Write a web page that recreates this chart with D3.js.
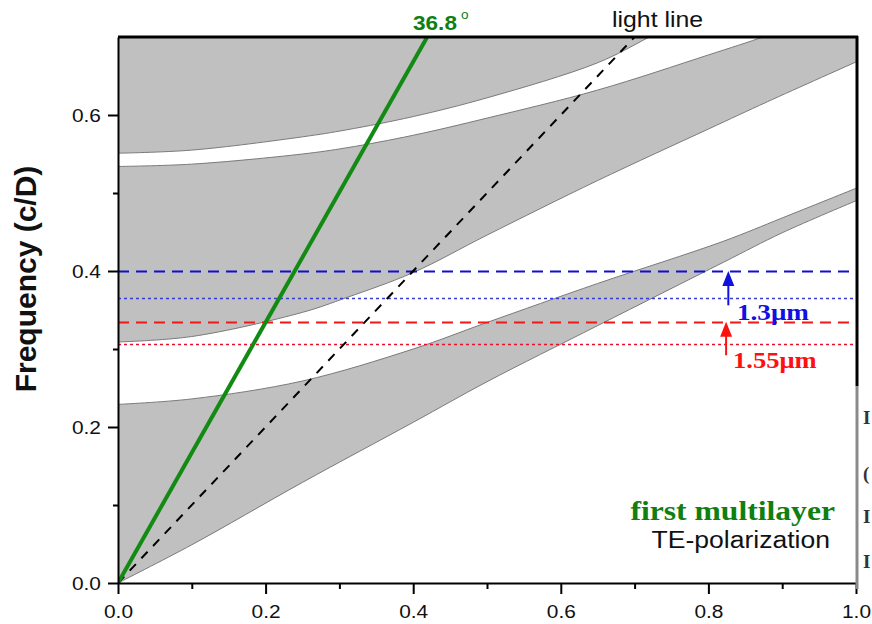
<!DOCTYPE html>
<html>
<head>
  <meta charset="UTF-8">
  <style>
    body { margin: 0; padding: 0; background: #fff; }
    svg { display: block; }
    .sans { font-family: "Liberation Sans", Arial, sans-serif; }
    .serif { font-family: "Liberation Serif", "Times New Roman", serif; font-weight: bold; }
  </style>
</head>
<body>
  <svg></svg>
  <script src="https://d3js.org/d3.v7.min.js"></script>
  <script>
    const width = 872, height = 624;

    // band edges (wave vector -> frequency)
    const band1V  = [0, 0.1, 0.25, 0.4, 0.5, 0.65, 0.82, 0.9, 1.0];
    const band1Lo = [0, 0.049, 0.129, 0.206, 0.258, 0.33, 0.411, 0.449, 0.49];
    const band1Hi = [0.229, 0.236, 0.259, 0.30, 0.334, 0.384, 0.438, 0.468, 0.506];

    const band2V  = [0, 0.1, 0.25, 0.31, 0.4, 0.5, 0.65, 0.8, 0.88, 1.0];
    const band2Lo = [0.309, 0.316, 0.347, 0.366, 0.398, 0.446, 0.516, 0.582, 0.617, 0.668];
    const band2Hi = [0.534, 0.537, 0.55, 0.558, 0.574, 0.596, 0.632, 0.677, 0.702, 0.745];

    const band3V  = [0, 0.1, 0.25, 0.31, 0.4, 0.5, 0.65, 0.72, 0.8, 1.0];
    const band3Lo = [0.551, 0.555, 0.572, 0.581, 0.598, 0.622, 0.667, 0.70, 0.74, 0.84];

    const lightLine = [[0, 0], [0.7, 0.7]];
    const angleLine = [[0, 0], [0.419, 0.7]];

    // wavelength guides: 1.3um (dashed / dotted), 1.55um (dashed / dotted)
    const blueLevels = [0.4, 0.365];
    const redLevels = [0.335, 0.307];
    const arrowK = [0.827, 0.824];
    const arrowFrom = [0.356, 0.292];

    const xTicks = [0, 0.2, 0.4, 0.6, 0.8, 1.0];
    const xMinor = [0.1, 0.3, 0.5, 0.7, 0.9];
    const yTicks = [0, 0.2, 0.4, 0.6];
    const yMinor = [0.1, 0.3, 0.5];

    const sx = 1.13; // the source picture is stretched sideways a bit

    const svg = d3.select("svg").attr("width", width).attr("height", height);

    const x = d3.scaleLinear().domain([0, 1]).range([118, 856]);
    const y = d3.scaleLinear().domain([0, 0.7]).range([583, 37]);

    svg.append("clipPath").attr("id", "plot")
      .append("rect")
      .attr("x", x(0)).attr("y", y(0.7))
      .attr("width", x(1) - x(0)).attr("height", y(0) - y(0.7));

    const plot = svg.append("g").attr("clip-path", "url(#plot)");

    const zip = (v, f) => v.map((d, i) => [d, f[i]]);

    const area = d3.area()
      .x(d => x(d[0])).y0(d => y(d[1])).y1(d => y(d[2]))
      .curve(d3.curveCatmullRom.alpha(0.5));
    const edge = d3.line()
      .x(d => x(d[0])).y(d => y(d[1]))
      .curve(d3.curveCatmullRom.alpha(0.5));

    const bands = [
      band1V.map((v, i) => [v, band1Lo[i], band1Hi[i]]),
      band2V.map((v, i) => [v, band2Lo[i], band2Hi[i]]),
      band3V.map((v, i) => [v, band3Lo[i], 0.8])
    ];

    plot.selectAll("path.band")
      .data(bands)
      .enter().append("path")
      .attr("class", "band")
      .attr("d", area)
      .attr("fill", "#c0c0c0");

    const edges = [
      zip(band1V, band1Lo), zip(band1V, band1Hi),
      zip(band2V, band2Lo), zip(band2V, band2Hi),
      zip(band3V, band3Lo)
    ];
    plot.selectAll("path.edge")
      .data(edges)
      .enter().append("path")
      .attr("class", "edge")
      .attr("d", edge)
      .attr("fill", "none")
      .attr("stroke", "#7a7a7a")
      .attr("stroke-width", 1);

    // horizontal guides
    const guides = [
      { f: blueLevels[0], c: "#1010c8", w: 2, dash: "11,7" },
      { f: blueLevels[1], c: "#3a3ad8", w: 1.3, dash: "3,3" },
      { f: redLevels[0], c: "#f01818", w: 2, dash: "11,7" },
      { f: redLevels[1], c: "#e8102a", w: 1.3, dash: "3,3" }
    ];
    plot.selectAll("line.guide")
      .data(guides)
      .enter().append("line")
      .attr("class", "guide")
      .attr("x1", x(0)).attr("x2", x(1))
      .attr("y1", d => Math.round(y(d.f)) + 0.5).attr("y2", d => Math.round(y(d.f)) + 0.5)
      .attr("stroke", d => d.c)
      .attr("stroke-width", d => d.w)
      .attr("stroke-dasharray", d => d.dash);

    plot.append("path")
      .attr("d", edge(lightLine))
      .attr("stroke", "#000").attr("stroke-width", 2)
      .attr("stroke-dasharray", "9,8")
      .attr("fill", "none");

    plot.append("path")
      .attr("d", edge(angleLine))
      .attr("stroke", "#138a13").attr("stroke-width", 4)
      .attr("fill", "none");

    // axes
    const fmt = d3.format(".1f");
    const xAxis = svg.append("g").attr("transform", `translate(0,${y(0)})`)
      .call(d3.axisBottom(x).tickValues(xTicks).tickSize(11).tickSizeOuter(0).tickFormat(fmt));
    svg.append("g").attr("transform", `translate(0,${y(0)})`)
      .call(d3.axisBottom(x).tickValues(xMinor).tickSize(6).tickFormat(""))
      .select(".domain").remove();
    const yAxis = svg.append("g").attr("transform", `translate(${x(0)},0)`)
      .call(d3.axisLeft(y).tickValues(yTicks).tickSize(10).tickSizeOuter(0).tickFormat(fmt));
    svg.append("g").attr("transform", `translate(${x(0)},0)`)
      .call(d3.axisLeft(y).tickValues(yMinor).tickSize(5).tickFormat(""))
      .select(".domain").remove();

    svg.selectAll(".domain, .tick line").attr("stroke", "#000").attr("stroke-width", 2);
    xAxis.selectAll("text")
      .attr("class", "sans").attr("font-size", 18.5).attr("fill", "#111")
      .attr("y", 0).attr("dy", 0)
      .attr("transform", `translate(0,35) scale(${sx},1)`);
    yAxis.selectAll("text")
      .attr("class", "sans").attr("font-size", 18.5).attr("fill", "#111")
      .attr("x", 0).attr("dy", "0.35em")
      .attr("transform", `translate(-17,0) scale(${sx},1)`);
    svg.selectAll(".tick text").attr("font-family", null);

    // frame: top and right
    svg.append("line")
      .attr("x1", x(0)).attr("x2", x(1) + 2)
      .attr("y1", y(0.7)).attr("y2", y(0.7))
      .attr("stroke", "#000").attr("stroke-width", 3);
    svg.append("line")
      .attr("x1", x(1) + 1).attr("x2", x(1) + 1)
      .attr("y1", y(0.7) - 1).attr("y2", 386)
      .attr("stroke", "#000").attr("stroke-width", 3);
    svg.append("line")
      .attr("x1", x(1) + 1).attr("x2", x(1) + 1)
      .attr("y1", 386).attr("y2", y(0) + 6)
      .attr("stroke", "#8a8a8a").attr("stroke-width", 3);

    // arrows
    const arrowColors = ["#1010e0", "#ff1010"];
    const arrowTo = [blueLevels[0], redLevels[0]];
    arrowK.forEach((k, i) => {
      const ax = x(k), y0 = y(arrowFrom[i]), y1 = y(arrowTo[i]);
      svg.append("line")
        .attr("x1", ax).attr("x2", ax).attr("y1", y0).attr("y2", y1 + 8)
        .attr("stroke", arrowColors[i]).attr("stroke-width", 2);
      svg.append("path")
        .attr("d", `M${ax},${y1} L${ax - 6},${y1 + 15} L${ax + 6},${y1 + 15} Z`)
        .attr("fill", arrowColors[i]);
    });

    function label(tx, ty, str, cls, size, color, anchor, s) {
      return svg.append("text")
        .attr("class", cls)
        .attr("transform", `translate(${tx},${ty}) scale(${s || sx},1)`)
        .attr("font-size", size)
        .attr("fill", color)
        .attr("text-anchor", anchor || "start")
        .text(str);
    }

    label(737, 320, "1.3μm", "serif", 24, "#1010e0");
    label(733, 368, "1.55μm", "serif", 23.5, "#ff1010");
    label(835, 520, "first multilayer", "serif", 28, "#0f7f0f", "end");
    label(830, 548, "TE-polarization", "sans", 23.5, "#111", "end");
    label(612, 27, "light line", "sans", 22, "#111");
    label(413, 30, "36.8", "sans", 20, "#0f7f0f").attr("font-weight", "bold");
    label(461, 19, "o", "sans", 12, "#0f7f0f");

    svg.append("text")
      .attr("class", "sans")
      .attr("transform", "translate(36,279) rotate(-90)")
      .attr("text-anchor", "middle")
      .attr("font-size", 30)
      .attr("font-weight", "bold")
      .attr("fill", "#111")
      .text("Frequency (c/D)");

    // bits of the neighbouring page's text at the right edge
    const edgeGlyphs = ["I", "(", "I", "I"];
    const edgeGlyphY = [424, 480, 523, 568];
    edgeGlyphs.forEach((g, i) => {
      svg.append("text")
        .attr("class", "serif")
        .attr("x", 863).attr("y", edgeGlyphY[i])
        .attr("font-size", 19).attr("font-weight", "normal")
        .attr("fill", "#333")
        .text(g);
    });
  </script>
</body>
</html>
